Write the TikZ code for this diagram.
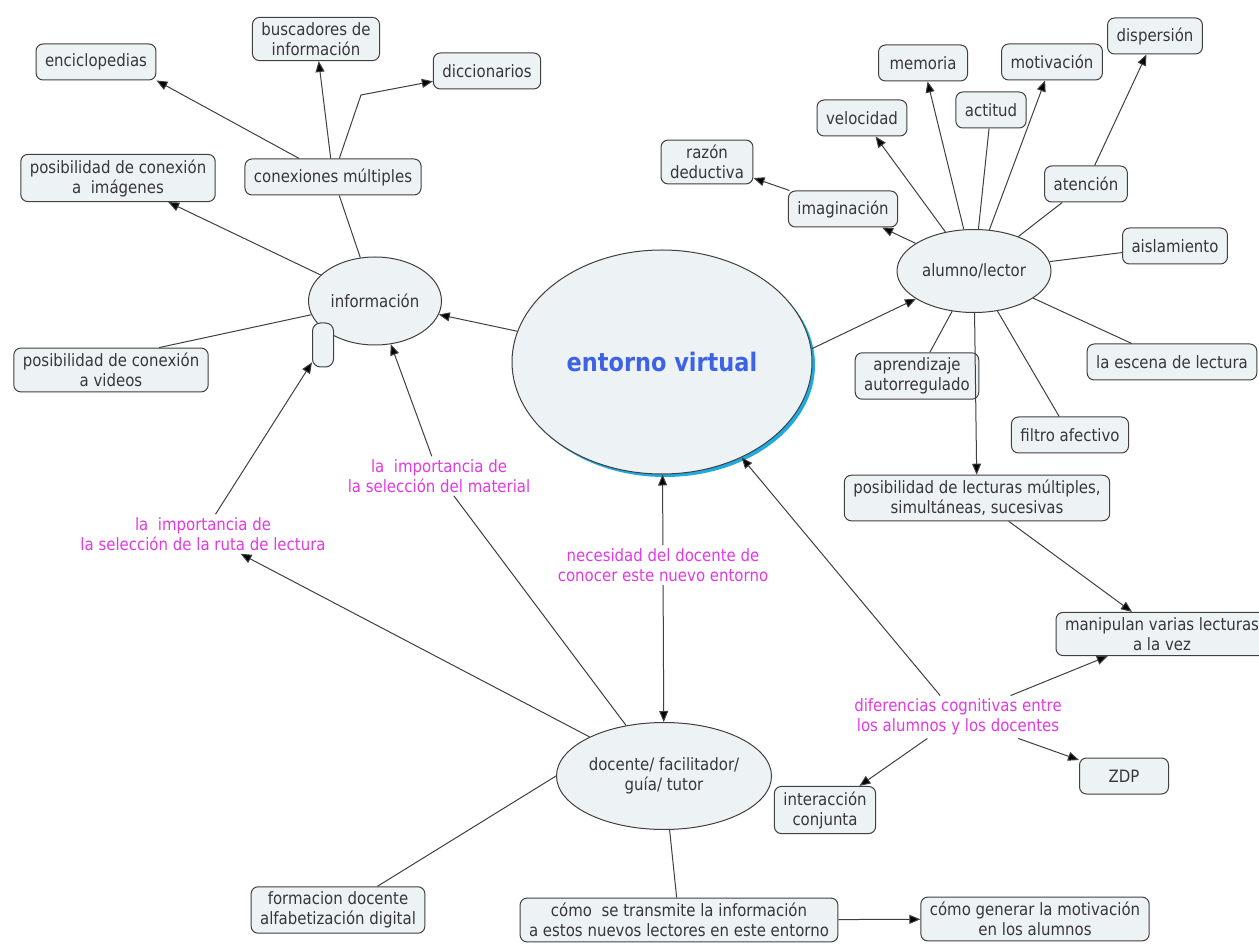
\documentclass[tikz,border=0pt]{standalone}
\usepackage{fontspec}
\setmainfont{DejaVu Sans}[FakeStretch=0.88]
\usepackage{tikz}
\usetikzlibrary{shapes.geometric, arrows.meta}
\definecolor{conceptfill}{RGB}{237,242,245}
\definecolor{conceptline}{RGB}{64,64,64}
\definecolor{conceptink}{RGB}{55,55,55}
\definecolor{linkink}{RGB}{226,58,226}
\definecolor{titleblue}{RGB}{62,98,228}
\definecolor{shadowcyan}{RGB}{30,170,225}
\tikzstyle{concept} = [rectangle, rounded corners=7pt, draw=conceptline, fill=conceptfill, line width=1pt, text=conceptink, align=center, inner xsep=9pt, inner ysep=5pt, minimum height=36pt]
\tikzstyle{oval} = [ellipse, draw=conceptline, fill=conceptfill, line width=1pt, text=conceptink, align=center, inner sep=0pt]
\tikzstyle{linkword} = [text=linkink, align=center, inner sep=3pt]
\tikzstyle{conn} = [draw=conceptline, line width=1pt]
\tikzstyle{arrow} = [conn, -{Triangle[length=11pt,width=9pt,fill=black]}]

\begin{document}
\begin{tikzpicture}[x=1pt, y=-1pt, font=\fontsize{17}{20}\selectfont]
   \path[use as bounding box, fill=white] (0,0) rectangle (1259,949);

   % centre
   \fill[shadowcyan] (665,365) ellipse [x radius=150pt, y radius=112pt];
   \node (entorno) [oval, minimum width=300pt, minimum height=224pt] at (662,362) {\fontsize{25.5}{30}\selectfont\bfseries\color{titleblue}entorno virtual};

   % informacion
   \node (info) [oval, minimum width=133pt, minimum height=88pt] at (375,301) {información};
   \node (hueco) [concept, rounded corners=8pt, minimum width=21pt, minimum height=44pt, inner sep=0pt] at (323,345) {};
   \node (conex) [concept] at (333,177) {conexiones múltiples};
   \node (encic) [concept] at (96,62) {enciclopedias};
   \node (busc) [concept] at (316,39) {buscadores de\\información};
   \node (dicc) [concept] at (487,71) {diccionarios};
   \node (conimg) [concept] at (118,178) {posibilidad de conexión\\a\ \ imágenes};
   \node (convid) [concept] at (111,370) {posibilidad de conexión\\a videos};
   \coordinate (codo) at (361,95);

   % alumno
   \node (alumno) [oval, minimum width=154pt, minimum height=83pt] at (974,271) {alumno/lector};
   \node (disper) [concept] at (1155,36) {dispersión};
   \node (motiv) [concept] at (1052,62) {motivación};
   \node (memo) [concept, minimum width=89pt] at (923,63) {memoria};
   \node (actit) [concept] at (991,110) {actitud};
   \node (veloc) [concept] at (862,118) {velocidad};
   \node (razon) [concept] at (707,162) {razón\\deductiva};
   \node (imagin) [concept] at (843,209) {imaginación};
   \node (atenc) [concept] at (1086,184) {atención};
   \node (aislam) [concept] at (1175,246) {aislamiento};
   \node (escena) [concept] at (1172,362) {la escena de lectura};
   \node (aprend) [concept] at (917,376) {aprendizaje\\autorregulado};
   \node (filtro) [concept] at (1070,435) {filtro afectivo};
   \node (multi) [concept] at (977,498) {posibilidad de lecturas múltiples,\\simultáneas, sucesivas};
   \node (manip) [concept] at (1162,634) {manipulan varias lecturas\\a la vez};

   % docente
   \node (docente) [oval, minimum width=215pt, minimum height=107pt] at (664,776) {docente/ facilitador/\\guía/ tutor};
   \node (zdp) [concept, minimum width=89pt] at (1124,776) {ZDP};
   \node (interac) [concept] at (825,810) {interacción\\conjunta};
   \node (formac) [concept] at (338,910) {formacion docente\\alfabetización digital};
   \node (transm) [concept] at (679,920) {cómo\ \ se transmite la información\\a estos nuevos lectores en este entorno};
   \node (generar) [concept] at (1035,919) {cómo generar la motivación\\en los alumnos};

   % frases de enlace
   \node (nec) [linkword] at (663,565) {necesidad del docente de\\conocer este nuevo entorno};
   \node (mat) [linkword] at (439,476) {la\ \ importancia de\\la selección del material};
   \node (ruta) [linkword] at (203,534) {la\ \ importancia de\\la selección de la ruta de lectura};
   \node (dif) [linkword] at (958,717) {diferencias cognitivas entre\\los alumnos y los docentes};

   % enlaces
   \draw [arrow] (entorno) -- (info);
   \draw [arrow] (entorno.5) -- (alumno);
   \draw [conn] (info) -- (conex);
   \draw [arrow] (conex) -- (encic.south east);
   \draw [arrow] (conex) -- (busc);
   \draw [arrow] (conex) -- (codo) -- (dicc);
   \draw [arrow] (info) -- (conimg);
   \draw [conn] (info) -- (convid.25);

   \draw [arrow] (alumno) -- (imagin);
   \draw [arrow] (imagin) -- (razon);
   \draw [arrow] (alumno) -- (veloc);
   \draw [arrow] (alumno) -- (memo);
   \draw [conn] (alumno) -- (actit);
   \draw [arrow] (alumno) -- (motiv);
   \draw [conn] (alumno) -- (atenc);
   \draw [arrow] (atenc) -- (disper);
   \draw [conn] (alumno) -- (aislam);
   \draw [conn] (alumno) -- (escena);
   \draw [conn] (alumno) -- (aprend);
   \draw [conn] (alumno) -- (filtro);
   \draw [arrow] (alumno) -- (multi);
   \draw [arrow] (multi) -- (manip);

   \draw [arrow] (nec) -- (entorno);
   \draw [arrow] (nec) -- (docente);
   \draw [conn] (docente) -- (mat);
   \draw [arrow] (mat) -- (info);
   \draw [arrow] (docente) -- (ruta);
   \draw [arrow] (ruta) -- (hueco);
   \draw [conn] (docente.west) -- (formac.31);
   \draw [conn] (docente) -- (transm);
   \draw [arrow] (transm) -- (generar);

   \draw [arrow] (dif) -- (entorno);
   \draw [arrow] (dif) -- (manip);
   \draw [arrow] (dif) -- (zdp);
   \draw [arrow] (dif) -- (interac);
\end{tikzpicture}
\end{document}
